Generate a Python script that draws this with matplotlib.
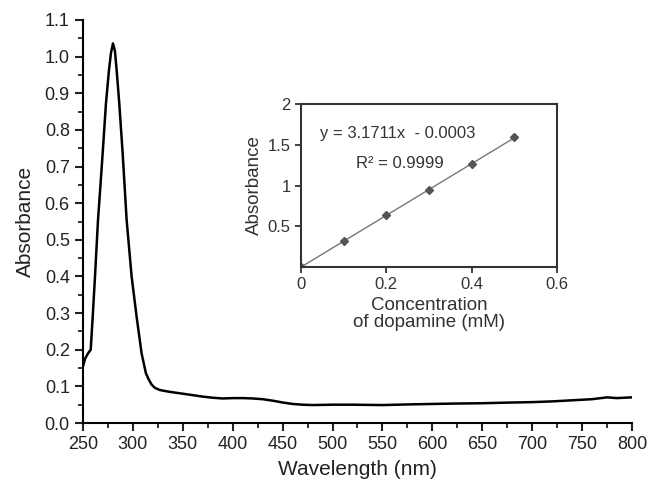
import matplotlib
matplotlib.use("Agg")
import matplotlib.pyplot as plt
from matplotlib.ticker import MultipleLocator

plt.rcParams['font.family'] = ['Liberation Sans', 'DejaVu Sans']

# Main spectrum
wavelength = [250, 252, 255, 257.7, 259.7, 262, 265, 267.5, 269.7, 273, 276, 278, 280, 282, 283.7,
              286.3, 289.7, 293.7, 298.7, 303.7, 308.7, 313, 316, 318.7, 322, 327, 337,
              350, 360, 370, 380, 390, 400, 410, 420, 430, 440, 450, 460, 470, 480,
              500, 520, 550, 580, 600, 620, 650, 680, 700, 720, 740, 760, 775, 785, 792, 800]
absorbance = [0.155, 0.175, 0.19, 0.20, 0.29, 0.40, 0.554, 0.65, 0.737, 0.873, 0.963, 1.01, 1.036,
              1.015, 0.963, 0.873, 0.737, 0.554, 0.40, 0.29, 0.19, 0.136, 0.118, 0.105, 0.096,
              0.090, 0.085, 0.080, 0.076, 0.072, 0.069, 0.067, 0.068, 0.068, 0.067,
              0.065, 0.061, 0.056, 0.052, 0.050, 0.049, 0.050, 0.050, 0.049, 0.051, 0.052, 0.053,
              0.054, 0.056, 0.057, 0.059, 0.062, 0.065, 0.070, 0.068, 0.069, 0.070]

# Inset calibration data
conc = [0.0, 0.1, 0.2, 0.3, 0.4, 0.5]
abs_cal = [0.0, 0.32, 0.64, 0.95, 1.26, 1.59]
slope, intercept = 3.1711, -0.0003

main_xticks = [250, 300, 350, 400, 450, 500, 550, 600, 650, 700, 750, 800]
main_yticks = [0.0, 0.1, 0.2, 0.3, 0.4, 0.5, 0.6, 0.7, 0.8, 0.9, 1.0, 1.1]
inset_xticks = [0, 0.2, 0.4, 0.6]
inset_xlabels = ['0', '0.2', '0.4', '0.6']
inset_yticks = [0.5, 1, 1.5, 2]
inset_ylabels = ['0.5', '1', '1.5', '2']

fig = plt.figure(figsize=(6.61, 4.84), dpi=100)
ax = fig.add_axes([0.1256, 0.126, 0.8304, 0.8327])
ax.plot(wavelength, absorbance, color='black', lw=1.8)
ax.set_xlim(250, 800)
ax.set_ylim(0, 1.1)
ax.set_xticks(main_xticks)
ax.set_yticks(main_yticks)
ax.set_yticklabels([f"{v:.1f}" for v in main_yticks])
ax.xaxis.set_minor_locator(MultipleLocator(25))
ax.yaxis.set_minor_locator(MultipleLocator(0.05))
for s in ['top', 'right']:
    ax.spines[s].set_visible(False)
for s in ['left', 'bottom']:
    ax.spines[s].set_linewidth(1.5)
ax.tick_params(which='major', direction='out', length=6, width=1.5, labelsize=13, colors='#222222')
ax.tick_params(which='minor', direction='out', length=3.5, width=1.3, colors='#222222')
ax.set_xlabel('Wavelength (nm)', fontsize=15, color='#222222', labelpad=5)
ax.set_ylabel('Absorbance', fontsize=15, color='#222222', labelpad=7)

# Inset
ins = fig.add_axes([0.4554, 0.4483, 0.3873, 0.3368])
fit_x = [0, 0.5]
ins.plot(fit_x, [slope * v + intercept for v in fit_x], color='#777777', lw=1.0)
ins.plot(conc, abs_cal, linestyle='none', marker='D', markersize=4.5, color='#555555')
ins.set_xlim(0, 0.6)
ins.set_ylim(0, 2)
ins.set_xticks(inset_xticks)
ins.set_xticklabels(inset_xlabels)
ins.set_yticks(inset_yticks)
ins.set_yticklabels(inset_ylabels)
for s in ins.spines.values():
    s.set_linewidth(1.5)
    s.set_color('#333333')
ins.tick_params(direction='out', length=4, width=1.3, labelsize=12, colors='#333333')
ins.set_xlabel('Concentration\nof dopamine (mM)', fontsize=13.5, color='#333333', labelpad=3, linespacing=1.05)
ins.set_ylabel('Absorbance', fontsize=13.5, color='#333333', labelpad=3)
ins.text(0.227, 1.64, 'y = 3.1711x  - 0.0003', fontsize=12, ha='center', va='center', color='#333333')
ins.text(0.232, 1.276, 'R² = 0.9999', fontsize=12, ha='center', va='center', color='#333333')

fig.savefig('out.png', dpi=100)
